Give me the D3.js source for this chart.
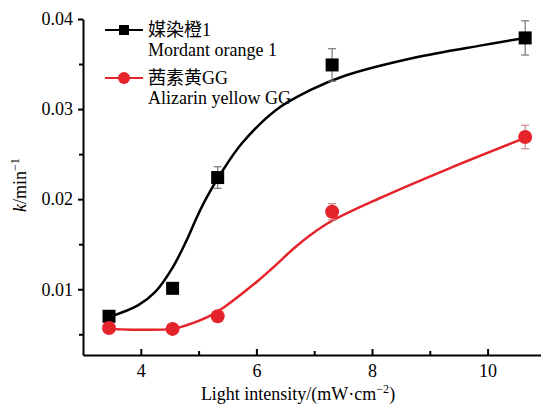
<!DOCTYPE html>
<html>
  <head>
    <meta charset='utf-8'>
    <title></title>
    <script src='https://d3js.org/d3.v7.min.js'></script>
    <style>
      body { margin: 0; background: #fff; }
      svg { display: block; }
      text { font-family: "Liberation Serif", "DejaVu Serif", serif; }
      .cjk { font-family: "Liberation Serif", "Noto Sans CJK SC", serif; }
      .axis path, .axis line { stroke: #000; stroke-width: 2px; fill: none; }
      .axis text { font-size: 18px; fill: #000; }
    </style>
  </head>
  <body>
  <script type='text/javascript'>

    // measured points (light intensity, k)
    var intensity = [3.45, 4.55, 5.33, 7.31, 10.65];
    var kMordant  = [0.0070, 0.0101, 0.0224, 0.0349, 0.0379];
    var errMordant = [0.0003, 0.0003, 0.0012, 0.0018, 0.0019];
    var kAlizarin = [0.0057, 0.0056, 0.0070, 0.0186, 0.0269];
    var errAlizarin = [0.0002, 0.0002, 0.0003, 0.0009, 0.0013];

    // fitted curves
    var fitX1 = [3.45, 3.95, 4.25, 4.55, 4.79, 4.97, 5.15, 5.39, 5.75, 6.34, 6.93, 7.53, 8.73, 9.92, 10.65];
    var fitMordant = [0.0069, 0.0082, 0.0097, 0.0124, 0.0154, 0.0180, 0.0203, 0.0229, 0.0262, 0.0299, 0.0321, 0.0337, 0.0357, 0.0371, 0.0379];
    var fitX2 = [3.45, 4.55, 4.79, 5.15, 5.44, 5.75, 6.04, 6.34, 6.64, 6.93, 7.31, 8.13, 9.33, 10.65];
    var fitAlizarin = [0.0056, 0.0056, 0.0060, 0.0069, 0.0080, 0.0095, 0.0110, 0.0127, 0.0145, 0.0160, 0.0176, 0.0201, 0.0234, 0.0268];

    var xTicks = [4, 6, 8, 10];
    var yTicks = [0.01, 0.02, 0.03, 0.04];
    var yMinor = [0.005, 0.015, 0.025, 0.035];
    var xMinor = [5, 7, 9];

    var width = 541, height = 407;
    var red = '#e5232b';

    var svg = d3.select('body').append('svg')
      .attr('width', width)
      .attr('height', height);

    var x = d3.scaleLinear().domain([3, 11]).range([83, 545.4]);
    var y = d3.scaleLinear().domain([0.0027, 0.04]).range([355, 19]);

    // axes
    svg.append('g')
      .attr('class', 'axis')
      .attr('transform', 'translate(0,355)')
      .call(d3.axisBottom(x).tickValues(xTicks).tickSizeInner(-6).tickSizeOuter(0).tickPadding(9).tickFormat(d3.format('d')));
    svg.append('g')
      .attr('class', 'axis')
      .attr('transform', 'translate(0,355)')
      .call(d3.axisBottom(x).tickValues(xMinor).tickSizeInner(-4).tickSizeOuter(0).tickFormat(''))
      .select('.domain').remove();

    svg.append('g')
      .attr('class', 'axis')
      .attr('transform', 'translate(83,0)')
      .call(d3.axisLeft(y).tickValues(yTicks).tickSize(5).tickSizeOuter(0).tickPadding(5).tickFormat(d3.format('.2f')));
    svg.append('g')
      .attr('class', 'axis')
      .attr('transform', 'translate(83,0)')
      .call(d3.axisLeft(y).tickValues(yMinor).tickSize(4).tickSizeOuter(0).tickFormat(''))
      .select('.domain').remove();

    svg.selectAll('.axis').attr('font-family', null);

    // axis titles
    var xt = svg.append('text')
      .attr('x', 298).attr('y', 400)
      .attr('text-anchor', 'middle')
      .style('font-size', '18px');
    xt.append('tspan').text('Light intensity/(mW\u00b7cm');
    xt.append('tspan').attr('dy', -7).style('font-size', '12px').text('\u22122');
    xt.append('tspan').attr('dy', 7).text(')');

    var yt = svg.append('text')
      .attr('transform', 'translate(26,212) rotate(-90)')
      .style('font-size', '18px');
    yt.append('tspan').style('font-style', 'italic').text('k');
    yt.append('tspan').text('/min');
    yt.append('tspan').attr('dy', -7).style('font-size', '12px').text('\u22121');

    // fitted curves
    var line = d3.line()
      .x(function(d) { return x(d[0]); })
      .y(function(d) { return y(d[1]); })
      .curve(d3.curveCatmullRom.alpha(0.5));

    svg.append('path')
      .datum(d3.zip(fitX2, fitAlizarin))
      .attr('d', line)
      .attr('fill', 'none')
      .attr('stroke', red)
      .attr('stroke-width', 2.5);

    svg.append('path')
      .datum(d3.zip(fitX1, fitMordant))
      .attr('d', line)
      .attr('fill', 'none')
      .attr('stroke', '#000')
      .attr('stroke-width', 2.5);

    // error bars
    function errorBars(vals, errs, color) {
      var g = svg.append('g').attr('stroke', color).attr('stroke-width', 1.2);
      intensity.forEach(function(xv, i) {
        var top = y(vals[i] + errs[i]), bot = y(vals[i] - errs[i]), cx = x(xv);
        g.append('line').attr('x1', cx).attr('x2', cx).attr('y1', top).attr('y2', bot);
        g.append('line').attr('x1', cx - 4).attr('x2', cx + 4).attr('y1', top).attr('y2', top);
        g.append('line').attr('x1', cx - 4).attr('x2', cx + 4).attr('y1', bot).attr('y2', bot);
      });
    }
    errorBars(kMordant, errMordant, '#777');
    errorBars(kAlizarin, errAlizarin, '#c98a8c');

    // markers
    svg.selectAll('.sq')
      .data(d3.zip(intensity, kMordant))
      .enter().append('rect')
      .attr('class', 'sq')
      .attr('x', function(d) { return x(d[0]) - 6.5; })
      .attr('y', function(d) { return y(d[1]) - 6.5; })
      .attr('width', 13).attr('height', 13)
      .attr('fill', '#000');

    svg.selectAll('.dot')
      .data(d3.zip(intensity, kAlizarin))
      .enter().append('circle')
      .attr('class', 'dot')
      .attr('cx', function(d) { return x(d[0]); })
      .attr('cy', function(d) { return y(d[1]); })
      .attr('r', 7)
      .attr('fill', red);

    // legend
    var legend = svg.append('g');
    legend.append('line').attr('x1', 105).attr('x2', 143).attr('y1', 30).attr('y2', 30)
      .attr('stroke', '#000').attr('stroke-width', 2);
    legend.append('rect').attr('x', 119).attr('y', 25).attr('width', 10).attr('height', 10).attr('fill', '#000');
    legend.append('text').attr('class', 'cjk').attr('x', 148).attr('y', 36).style('font-size', '18px').text('媒染橙1');
    legend.append('text').attr('x', 148).attr('y', 56).style('font-size', '18px').text('Mordant orange 1');

    legend.append('line').attr('x1', 105).attr('x2', 143).attr('y1', 78).attr('y2', 78)
      .attr('stroke', red).attr('stroke-width', 2);
    legend.append('circle').attr('cx', 124).attr('cy', 78).attr('r', 6).attr('fill', red);
    legend.append('text').attr('class', 'cjk').attr('x', 148).attr('y', 84).style('font-size', '18px').text('茜素黄GG');
    legend.append('text').attr('x', 148).attr('y', 104).style('font-size', '18px').text('Alizarin yellow GG');

  </script>
  </body>
</html>
